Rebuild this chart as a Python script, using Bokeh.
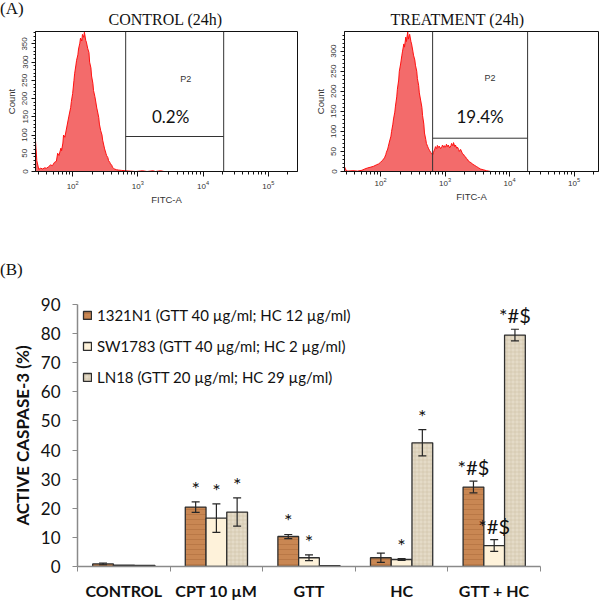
from bokeh.plotting import figure
from bokeh.models import (Range1d, FixedTicker, SingleIntervalTicker, Span, Label,
                          LabelSet, ColumnDataSource, Whisker, TeeHead, GridBox, Div)
from bokeh.layouts import row
from bokeh.embed import file_html
from bokeh.resources import INLINE
from bokeh.core.properties import value

# ---------------- Panel A data (flow cytometry histograms) ----------------
control_log_fitc = [1.43, 1.45, 1.48, 1.51, 1.54, 1.57, 1.60, 1.63, 1.66, 1.69,
                    1.72, 1.75, 1.77, 1.79, 1.82, 1.83, 1.85, 1.86, 1.88, 1.91,
                    1.94, 1.97, 1.98, 2.00, 2.02, 2.03, 2.05, 2.06, 2.08, 2.09,
                    2.11, 2.12, 2.14, 2.15, 2.17, 2.18, 2.20, 2.21, 2.23, 2.25,
                    2.26, 2.28, 2.29, 2.31, 2.32, 2.34, 2.35, 2.37, 2.38, 2.40,
                    2.41, 2.43, 2.45, 2.46, 2.48, 2.49, 2.51, 2.52, 2.54, 2.55,
                    2.57, 2.58, 2.60, 2.61, 2.63, 2.64, 2.67, 2.70, 2.75, 2.81,
                    2.89, 2.97, 3.07, 3.14, 3.23, 3.27, 3.35, 3.40]
control_count = [85, 30, 6, 9, 7, 10, 9, 13, 18, 16,
                 25, 28, 50, 44, 64, 57, 78, 100, 94, 122,
                 150, 176, 192, 214, 250, 268, 292, 305, 320, 336,
                 352, 366, 358, 376, 368, 382, 360, 355, 338, 326,
                 300, 284, 262, 242, 222, 206, 196, 174, 166, 148,
                 130, 112, 100, 86, 70, 62, 50, 44, 38, 30,
                 25, 21, 17, 12, 8, 7, 5, 4, 3, 2,
                 1, 0, 2, 0, 2, 0, 2, 0]

treat_log_fitc = [1.44, 1.46, 1.49, 1.57, 1.64, 1.71, 1.75, 1.80, 1.85, 1.89,
                  1.94, 1.97, 2.00, 2.03, 2.06, 2.08, 2.09, 2.11, 2.12, 2.14,
                  2.16, 2.17, 2.19, 2.20, 2.22, 2.23, 2.25, 2.26, 2.28, 2.29,
                  2.31, 2.33, 2.34, 2.36, 2.37, 2.39, 2.40, 2.42, 2.43, 2.45,
                  2.47, 2.48, 2.50, 2.51, 2.53, 2.54, 2.56, 2.57, 2.59, 2.60,
                  2.62, 2.64, 2.65, 2.67, 2.68, 2.70, 2.71, 2.73, 2.74, 2.76,
                  2.78, 2.79, 2.81, 2.82, 2.84, 2.85, 2.87, 2.88, 2.90, 2.91,
                  2.93, 2.95, 2.96, 2.98, 2.99, 3.01, 3.02, 3.04, 3.05, 3.07,
                  3.09, 3.10, 3.12, 3.13, 3.15, 3.16, 3.18, 3.19, 3.21, 3.22,
                  3.24, 3.26, 3.27, 3.29, 3.30, 3.32, 3.33, 3.35, 3.36, 3.38,
                  3.40, 3.43, 3.46, 3.49, 3.52, 3.55, 3.60, 3.64, 3.71]
treat_count = [12, 4, 1, 2, 1, 3, 6, 9, 11, 13,
               17, 19, 23, 28, 34, 42, 48, 56, 63, 76,
               88, 100, 118, 131, 148, 163, 186, 205, 228, 250,
               268, 290, 300, 318, 310, 335, 324, 348, 330, 342,
               324, 318, 300, 290, 278, 265, 250, 232, 214, 196,
               178, 160, 140, 118, 96, 80, 70, 62, 58, 52,
               47, 44, 42, 48, 56, 62, 57, 65, 60, 63,
               57, 62, 66, 60, 64, 61, 68, 62, 66, 59,
               64, 70, 64, 72, 62, 66, 58, 61, 55, 50,
               55, 48, 44, 42, 38, 36, 32, 30, 26, 24,
               22, 18, 15, 12, 9, 6, 4, 2, 0]

control_gate = [650, 20700]
control_gate_level = 96
treat_gate = [640, 19000]
treat_gate_level = 83
gate_name = "P2"
control_pct = "0.2%"
treat_pct = "19.4%"
panel_titles = ["CONTROL (24h)", "TREATMENT (24h)"]
panel_tags = ["(A)", "(B)"]

# ---------------- Panel B data (active caspase-3) ----------------
categories = ["CONTROL", "CPT 10 µM", "GTT", "HC", "GTT + HC"]
series_names = ["1321N1 (GTT 40 µg/ml; HC 12 µg/ml)",
                "SW1783 (GTT 40 µg/ml; HC 2 µg/ml)",
                "LN18 (GTT 20 µg/ml; HC 29 µg/ml)"]
vals_1321 = [0.9, 20.4, 10.3, 3.0, 27.3]
err_1321 = [0.3, 1.8, 0.7, 1.6, 2.0]
vals_sw = [0.5, 16.6, 3.0, 2.4, 7.2]
err_sw = [0.0, 4.9, 1.0, 0.3, 2.0]
vals_ln = [0.4, 18.7, 0.3, 42.5, 79.5]
err_ln = [0.0, 4.85, 0.0, 4.5, 2.0]
marks_1321 = ["", "*", "*", "", "*#$"]
marks_sw = ["", "*", "*", "*", "*#$"]
marks_ln = ["", "*", "", "*", "*#$"]

AX_FONT = "Liberation Sans"


def flow_panel(title, log_fitc, counts, gate, gate_level, pct, x_lo, x_hi, y_hi,
               borders, title_offset, p2_y, pct_y, p2_dx, pct_dx, x_lab_standoff):
    left, right, top, bottom = borders
    fitc = [10 ** v for v in log_fitc]
    p = figure(width=300, height=221, x_axis_type="log",
               x_range=Range1d(10 ** x_lo, 10 ** x_hi), y_range=Range1d(0, y_hi),
               output_backend="svg", toolbar_location=None,
               min_border_left=left, min_border_right=right,
               min_border_top=top, min_border_bottom=bottom,
               border_fill_alpha=0)
    p.title.text = title
    p.title.align = "left"
    p.title.offset = title_offset
    p.title.text_font = "Liberation Serif"
    p.title.text_font_size = "16px"
    p.title.text_font_style = "normal"
    p.title.text_color = "#111111"
    p.title.standoff = 8
    p.xgrid.visible = False
    p.ygrid.visible = False
    p.outline_line_color = "#111111"
    p.outline_line_width = 1

    p.varea(x=fitc, y1=0, y2=counts, fill_color="#F36B6B", fill_alpha=1.0)
    p.line(x=fitc, y=counts, line_color="#FF1010", line_width=1)
    for g in gate:
        p.add_layout(Span(location=g, dimension="height", line_color="#333333", line_width=1))
    p.segment(x0=[gate[0]], y0=[gate_level], x1=[gate[1]], y1=[gate_level],
              line_color="#333333", line_width=1)
    gx = (gate[0] * gate[1]) ** 0.5
    p.add_layout(Label(x=gx, y=p2_y, x_offset=p2_dx, text=gate_name, text_align="center",
                       text_baseline="middle", text_font=AX_FONT, text_font_size="9px",
                       text_color="#333333"))
    p.add_layout(Label(x=gx, y=pct_y, x_offset=pct_dx, text=pct, text_align="center",
                       text_baseline="middle", text_font="Lato", text_font_size="17px",
                       text_color="#111111"))

    ax = p.xaxis[0]
    ax.axis_label = "FITC-A"
    ax.axis_label_text_font = AX_FONT
    ax.axis_label_text_font_size = "9.5px"
    ax.axis_label_text_font_style = "normal"
    ax.axis_label_text_color = "#333333"
    ax.axis_label_standoff = 2
    ax.major_label_text_font = AX_FONT
    ax.major_label_text_font_size = "8px"
    ax.major_label_text_color = "#333333"
    ax.major_label_standoff = x_lab_standoff
    ax.major_tick_out = 5
    ax.major_tick_in = 0
    ax.minor_tick_out = 3
    ax.minor_tick_in = 0
    ax.axis_line_color = "#111111"
    ax.major_tick_line_color = "#111111"
    ax.minor_tick_line_color = "#111111"

    ay = p.yaxis[0]
    ay.ticker = SingleIntervalTicker(interval=50, num_minor_ticks=5)
    ay.axis_label = "Count"
    ay.axis_label_text_font = AX_FONT
    ay.axis_label_text_font_size = "9.5px"
    ay.axis_label_text_font_style = "normal"
    ay.axis_label_text_color = "#333333"
    ay.axis_label_standoff = 3
    ay.major_label_orientation = "vertical"
    ay.major_label_text_font = AX_FONT
    ay.major_label_text_font_size = "8px"
    ay.major_label_text_color = "#333333"
    ay.major_label_standoff = 4
    ay.major_tick_out = 4
    ay.major_tick_in = 0
    ay.minor_tick_out = 2
    ay.minor_tick_in = 0
    ay.axis_line_color = "#111111"
    ay.major_tick_line_color = "#111111"
    ay.minor_tick_line_color = "#111111"
    return p


pa1 = flow_panel(panel_titles[0], control_log_fitc, control_count, control_gate,
                 control_gate_level, control_pct, 1.43, 5.448, 384,
                 (35, 3, 30, 47), 73, 253, 152, 11, -4, 4)
pa2 = flow_panel(panel_titles[1], treat_log_fitc, treat_count, treat_gate,
                 treat_gate_level, treat_pct, 1.44, 5.378, 349,
                 (44, 2, 31, 50), 46, 234, 136, 10, 0, 1)

# ---------------- Panel B figure ----------------
pb = figure(width=600, height=381, x_range=Range1d(0, len(categories)), y_range=Range1d(0, 90),
            output_backend="svg", toolbar_location=None,
            min_border_left=77, min_border_right=60, min_border_top=83, min_border_bottom=36,
            border_fill_alpha=0)
pb.outline_line_color = None
pb.xgrid.visible = False
pb.ygrid.visible = False

centers = [i + 0.5 for i in range(len(categories))]
bar_w = 0.224
offsets = [-bar_w, 0.0, bar_w]
ERR_C = "#262626"

series = [
    (series_names[0], vals_1321, err_1321, marks_1321,
     dict(fill_color="#C98753", hatch_pattern="horizontal_line", hatch_color="#9A5B2E",
          hatch_alpha=0.35, hatch_scale=5, hatch_weight=1)),
    (series_names[1], vals_sw, err_sw, marks_sw, dict(fill_color="#FEF2DA")),
    (series_names[2], vals_ln, err_ln, marks_ln,
     dict(fill_color="#E4DBC7", hatch_pattern="cross", hatch_color="#BFB291",
          hatch_alpha=0.35, hatch_scale=4, hatch_weight=1)),
]

for off, (name, vals, errs, marks, style) in zip(offsets, series):
    xs = [c + off for c in centers]
    src = ColumnDataSource(dict(x=xs, top=vals))
    pb.vbar(x="x", top="top", bottom=0, width=bar_w, source=src, line_color="#2e2e2e",
            line_width=1.3, legend_label=name, **style)
    wx = [x for x, e in zip(xs, errs) if e > 0]
    wu = [v + e for v, e in zip(vals, errs) if e > 0]
    wl = [v - e for v, e in zip(vals, errs) if e > 0]
    wsrc = ColumnDataSource(dict(x=wx, upper=wu, lower=wl))
    pb.add_layout(Whisker(source=wsrc, base="x", upper="upper", lower="lower",
                          dimension="height", line_color=ERR_C, line_width=1.2, level="overlay",
                          upper_head=TeeHead(size=8, line_color=ERR_C, line_width=1.2),
                          lower_head=TeeHead(size=8, line_color=ERR_C, line_width=1.2)))
    mx = [x for x, m in zip(xs, marks) if m]
    my = [v + e for v, e, m in zip(vals, errs, marks) if m]
    mt = [m for m in marks if m]
    msrc = ColumnDataSource(dict(x=mx, y=my, mark=mt))
    pb.add_layout(LabelSet(x="x", y="y", text="mark", source=msrc, text_align="center",
                           text_baseline="middle", y_offset=14, text_font=value("Lato"),
                           text_font_size="20px", text_color="#111111"))

AX_GRAY = "#8a8a8a"
xa = pb.xaxis[0]
xa.ticker = FixedTicker(ticks=centers, minor_ticks=list(range(len(categories) + 1)))
xa.major_label_overrides = {c: cat for c, cat in zip(centers, categories)}
xa.major_label_text_font = "Lato"
xa.major_label_text_font_style = "bold"
xa.major_label_text_font_size = "16px"
xa.major_label_text_color = "#111111"
xa.major_label_standoff = 9
xa.major_tick_line_color = None
xa.major_tick_out = 0
xa.major_tick_in = 0
xa.minor_tick_out = 5
xa.minor_tick_in = 0
xa.minor_tick_line_color = AX_GRAY
xa.axis_line_color = AX_GRAY
xa.axis_line_width = 1.5

ya = pb.yaxis[0]
ya.ticker = SingleIntervalTicker(interval=10, num_minor_ticks=0)
ya.axis_label = "ACTIVE CASPASE-3 (%)"
ya.axis_label_text_font = "Lato"
ya.axis_label_text_font_style = "bold"
ya.axis_label_text_font_size = "17px"
ya.axis_label_text_color = "#111111"
ya.axis_label_standoff = 5
ya.major_label_text_font = "Lato"
ya.major_label_text_font_size = "17px"
ya.major_label_text_color = "#111111"
ya.major_label_standoff = 12
ya.major_tick_out = 5
ya.major_tick_in = 0
ya.minor_tick_line_color = None
ya.major_tick_line_color = AX_GRAY
ya.axis_line_color = AX_GRAY
ya.axis_line_width = 1.5

lg = pb.legend[0]
lg.location = (5, 179)
lg.margin = 0
lg.padding = 0
lg.background_fill_alpha = 0
lg.border_line_color = None
lg.glyph_width = 10
lg.glyph_height = 10
lg.label_text_font = "Lato"
lg.label_text_font_size = "15px"
lg.label_text_color = "#111111"
lg.label_standoff = 5
lg.spacing = 11
lg.label_height = 20

tag_style = {"font-family": "Liberation Serif", "font-size": "17px", "line-height": "11px",
             "color": "#111111", "position": "relative", "z-index": "5"}
div_a = Div(text=panel_tags[0], width=30, height=14, margin=(3, 0, 0, 0), styles=tag_style)
div_b = Div(text=panel_tags[1], width=30, height=14, margin=(43, 0, 0, 0), styles=tag_style)

top_row = row(pa1, pa2)
layout = GridBox(children=[(top_row, 0, 0), (pb, 1, 0), (div_a, 0, 0), (div_b, 1, 0)])
open("out.html", "w").write(file_html(layout, INLINE))
